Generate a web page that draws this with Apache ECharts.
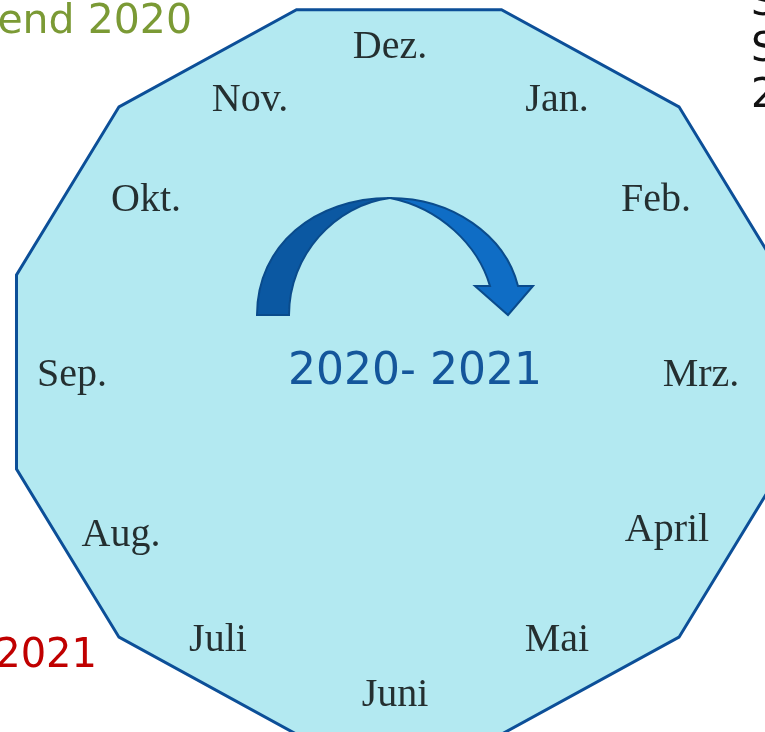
<!DOCTYPE html>
<html>
<head>
<meta charset="utf-8">
<script src="https://cdn.jsdelivr.net/npm/echarts@6/dist/echarts.min.js"></script>
<style>
  html, body { margin: 0; padding: 0; background: #fff; }
  #main { width: 765px; height: 732px; }
</style>
</head>
<body>
<div id="main"></div>
<script>
// months around the dial, clockwise from the top
var months = ['Dez.', 'Jan.', 'Feb.', 'Mrz.', 'April', 'Mai', 'Juni', 'Juli', 'Aug.', 'Sep.', 'Okt.', 'Nov.'];
// label centres (units = px from the dial centre, y up)
var monthX = [-9, 158, 257, 302, 268, 158, -4, -181, -278, -327, -253, -149];
var monthY = [325, 272, 172, -3, -158, -268, -323, -268, -163, -3, 172, 272];
var yearText = '2020- 2021';

var chart = echarts.init(document.getElementById('main'));

var labelData = months.map(function (m, i) {
  return { value: [monthX[i], monthY[i]], name: m };
});

// dial is a dodecagon, slightly wider than tall
var dialRx = 396, dialRy = 375;

function renderDial(params, api) {
  var pts = [];
  for (var k = 0; k < 12; k++) {
    var a = (15 + 30 * k) * Math.PI / 180;
    pts.push(api.coord([dialRx * Math.cos(a), dialRy * Math.sin(a)]));
  }
  return {
    type: 'polygon',
    shape: { points: pts },
    style: { fill: '#b3e9f1', stroke: '#0c4f98', lineWidth: 3 }
  };
}

// the curved arrow over the dial (pixel paths)
function renderArrow() {
  return {
    type: 'group',
    children: [
      {
        type: 'path',
        shape: { pathData: 'M257,315 C257,245 315,198 390,198 C335,205 289,255 289,315 Z' },
        style: { fill: '#0b58a2', stroke: '#0a4b8c', lineWidth: 2 }
      },
      {
        type: 'path',
        shape: { pathData: 'M390,198 C452,198 505,235 518,286 L533,286 L508,315 L475,286 L490,286 C478,245 440,208 390,198 Z' },
        style: { fill: '#0f6dc5', stroke: '#0a4b8c', lineWidth: 2 }
      }
    ]
  };
}

var option = {
  backgroundColor: '#ffffff',
  animation: false,
  grid: { left: 0, right: 0, top: 0, bottom: 0 },
  xAxis: { type: 'value', min: -399, max: 366, show: false },
  yAxis: { type: 'value', min: -360, max: 372, show: false },
  series: [
    {
      type: 'custom',
      renderItem: renderDial,
      data: [[0, 0]],
      silent: true,
      z: 1
    },
    {
      type: 'custom',
      coordinateSystem: 'none',
      renderItem: renderArrow,
      data: [0],
      silent: true,
      z: 3
    },
    {
      type: 'scatter',
      data: labelData,
      symbolSize: 0,
      z: 5,
      label: {
        show: true,
        position: 'inside',
        formatter: '{b}',
        color: '#000',
        textBorderWidth: 0,
        fontFamily: 'Liberation Serif',
        fontSize: 40
      }
    }
  ],
  graphic: [
    {
      type: 'text',
      z: 100,
      x: 415, y: 373,
      style: {
        text: yearText,
        fill: '#14569b',
        font: '44px "DejaVu Sans"',
        align: 'center',
        verticalAlign: 'middle'
      }
    },
    // texts from the neighbouring slide elements, cut off at the edges
    {
      type: 'text',
      z: 100,
      x: 192, y: 22,
      style: {
        text: 'end 2020',
        fill: '#7b9a35',
        font: '41px "DejaVu Sans"',
        align: 'right',
        verticalAlign: 'middle'
      }
    },
    {
      type: 'text',
      z: 100,
      x: 97, y: 657,
      style: {
        text: '2021',
        fill: '#c00000',
        font: '40px "DejaVu Sans"',
        align: 'right',
        verticalAlign: 'middle'
      }
    },
    {
      type: 'text',
      z: 100,
      x: 751, y: -18,
      style: {
        text: 'Sch\nSch\n20',
        fill: '#111',
        font: '40px "DejaVu Sans"',
        lineHeight: 46,
        align: 'left',
        verticalAlign: 'top'
      }
    }
  ]
};

chart.setOption(option);
</script>
</body>
</html>
